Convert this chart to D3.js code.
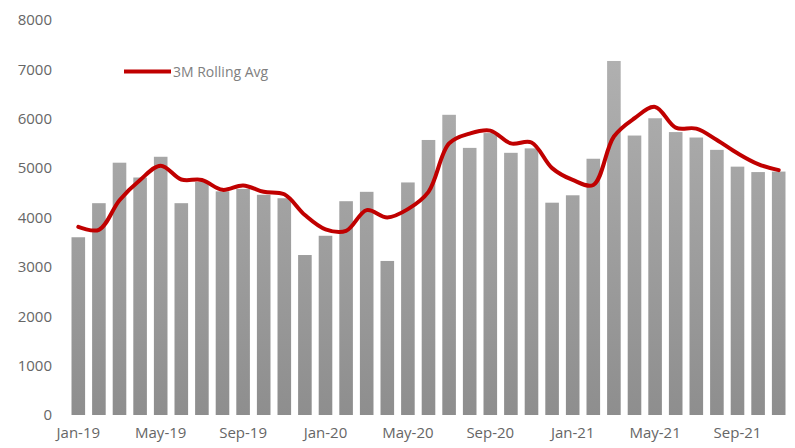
<!DOCTYPE html>
<html>
<head>
<meta charset="utf-8">
<script src="https://cdn.jsdelivr.net/npm/d3@7"></script>
<style>
  html, body { margin: 0; padding: 0; background: #ffffff; }
  svg { display: block; }
</style>
</head>
<body>
<svg id="chart" width="795" height="448"></svg>
<script>
const months = ["Jan-19","Feb-19","Mar-19","Apr-19","May-19","Jun-19","Jul-19","Aug-19","Sep-19","Oct-19","Nov-19","Dec-19",
                "Jan-20","Feb-20","Mar-20","Apr-20","May-20","Jun-20","Jul-20","Aug-20","Sep-20","Oct-20","Nov-20","Dec-20",
                "Jan-21","Feb-21","Mar-21","Apr-21","May-21","Jun-21","Jul-21","Aug-21","Sep-21","Oct-21","Nov-21"];
const monthly = [3600,4290,5110,4810,5230,4290,4720,4530,4580,4460,4390,3240,
                 3630,4330,4520,3120,4710,5570,6080,5410,5710,5310,5400,4300,
                 4450,5190,7170,5660,6010,5730,5620,5370,5030,4920,4930];
const rolling = [3810,3750,4350,4760,5050,4770,4760,4560,4650,4520,4470,4050,
                 3760,3730,4150,4000,4170,4520,5500,5700,5760,5500,5520,5000,
                 4760,4660,5640,6010,6240,5820,5800,5570,5300,5080,4960];
const yTicks = [0,1000,2000,3000,4000,5000,6000,7000,8000];
const xTickLabels = ["Jan-19","May-19","Sep-19","Jan-20","May-20","Sep-20","Jan-21","May-21","Sep-21"];
const legendLabel = "3M Rolling Avg";

const svg = d3.select("#chart");
const W = 795, H = 448;
const m = {left: 68, right: 6, top: 20, bottom: 33};

const x = d3.scaleBand().domain(months).range([m.left, W - m.right]).paddingInner(0.34).paddingOuter(0.17);
const y = d3.scaleLinear().domain([0, 8000]).range([H - m.bottom, m.top]);

const defs = svg.append("defs");
const grad = defs.append("linearGradient").attr("id", "barGrad")
  .attr("gradientUnits", "userSpaceOnUse")
  .attr("x1", 0).attr("y1", y(8000)).attr("x2", 0).attr("y2", y(0));
grad.append("stop").attr("offset", "0%").attr("stop-color", "#b4b4b4");
grad.append("stop").attr("offset", "100%").attr("stop-color", "#8e8e8e");

const font = "'Open Sans', 'DejaVu Sans', sans-serif";

// y axis
const yAxis = svg.append("g").attr("transform", `translate(${52},0)`)
  .call(d3.axisLeft(y).tickValues(yTicks).tickSize(0).tickPadding(0).tickFormat(d3.format("d")));
yAxis.select(".domain").remove();
yAxis.selectAll("text").attr("fill", "#666666").style("font-family", font).style("font-size", "15px");

// x axis
const xAxis = svg.append("g").attr("transform", `translate(0,${H - m.bottom})`)
  .call(d3.axisBottom(x).tickValues(xTickLabels).tickSize(0).tickPadding(12));
xAxis.select(".domain").remove();
xAxis.selectAll("text").attr("fill", "#666666").style("font-family", font).style("font-size", "15px");

// bars
svg.append("g").selectAll("rect").data(monthly).join("rect")
  .attr("x", (d, i) => x(months[i]))
  .attr("y", d => y(d))
  .attr("width", x.bandwidth())
  .attr("height", d => y(0) - y(d))
  .attr("fill", "url(#barGrad)");

// rolling average line
const line = d3.line()
  .x((d, i) => x(months[i]) + x.bandwidth() / 2)
  .y(d => y(d))
  .curve(d3.curveCatmullRom.alpha(0.5));
svg.append("path").datum(rolling)
  .attr("d", line)
  .attr("fill", "none")
  .attr("stroke", "#c00000")
  .attr("stroke-width", 4)
  .attr("stroke-linejoin", "round")
  .attr("stroke-linecap", "round");

// legend
const lg = svg.append("g");
lg.append("line").attr("x1", 124).attr("x2", 171).attr("y1", 71.5).attr("y2", 71.5)
  .attr("stroke", "#c00000").attr("stroke-width", 4);
lg.append("text").attr("x", 173).attr("y", 76.5).text(legendLabel)
  .attr("fill", "#808080").style("font-family", font).style("font-size", "14px");
</script>
</body>
</html>
